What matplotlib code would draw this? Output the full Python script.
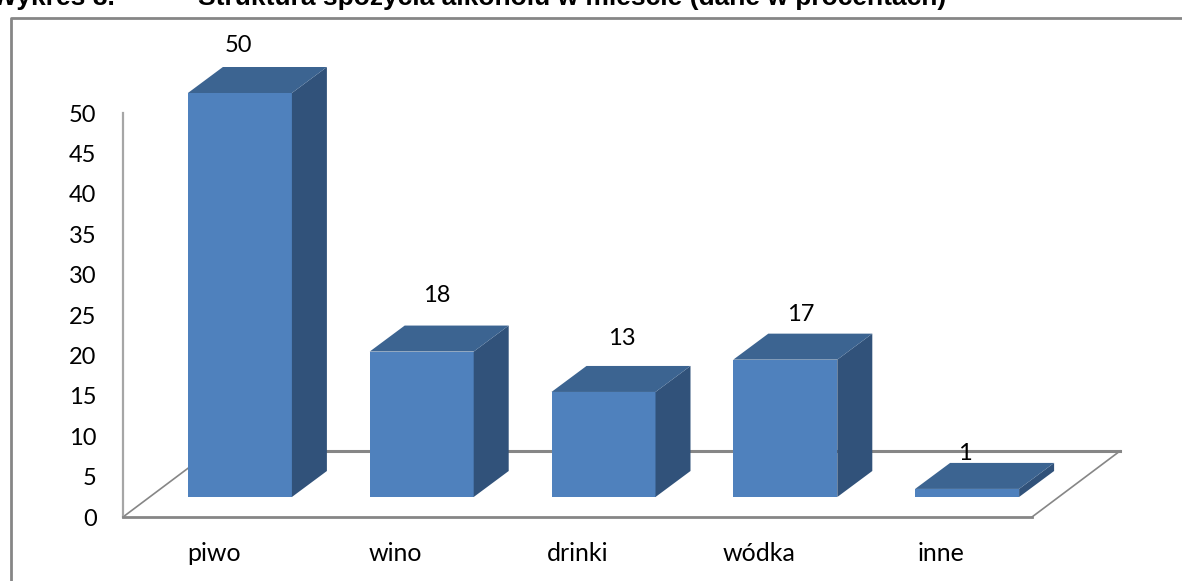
import matplotlib
matplotlib.use('Agg')
import matplotlib.pyplot as plt
from matplotlib.lines import Line2D

plt.rcParams['font.family'] = ['Lato', 'DejaVu Sans']

# Data
categories = ['piwo', 'wino', 'drinki', 'wódka', 'inne']
values = [50, 18, 13, 17, 1]
y_ticks = list(range(0, 55, 5))
title_left = 'Wykres 8.'
title_right = 'Struktura spożycia alkoholu w mieście (dane w procentach)'

W, H = 1182, 581
GREY = '#868686'
FRONT = '#4F81BD'
SIDE = '#31527A'
TOP = '#3C6491'

fig = plt.figure(figsize=(W / 100, H / 100), dpi=100)
ax = fig.add_axes([123 / W, (H - 517) / H, 909 / W, 404 / H])
ax.set_xlim(-0.5, 4.5)
ax.set_ylim(0, 50)

# one unit in pixels, used for the fake 3D offsets
px_x = 5 / 909
px_y = 50 / 404
shift_x = 26 * px_x
shift_y = 20 * px_y
bar_w = 104 * px_x
depth_x = 35 * px_x
depth_y = 26 * px_y
floor_x = 88 * px_x
floor_y = 66 * px_y

# Floor and back wall lines
ax.plot([-0.5, -0.5 + floor_x], [0, floor_y], color=GREY, lw=1.2, clip_on=False, zorder=1)
ax.plot([-0.5 + floor_x, 4.5 + floor_x], [floor_y, floor_y], color=GREY, lw=2.2, clip_on=False, zorder=1)
ax.plot([4.5, 4.5 + floor_x], [0, floor_y], color=GREY, lw=1.2, clip_on=False, zorder=1)

# Bars
label_dx = [-1, 15, 18, 15, -2]
label_dy = [48, 56, 53, 45, 35]
for i, v in enumerate(values):
    x0 = i + shift_x - bar_w / 2
    x1 = x0 + bar_w
    y0 = shift_y
    y1 = shift_y + v
    ax.bar(x0 + bar_w / 2, v, bar_w, bottom=y0, color=FRONT, zorder=3, clip_on=False)
    ax.fill([x1, x1 + depth_x, x1 + depth_x, x1],
            [y0, y0 + depth_y, y1 + depth_y, y1], color=SIDE, lw=0, zorder=3, clip_on=False)
    ax.fill([x0, x0 + depth_x, x1 + depth_x, x1],
            [y1, y1 + depth_y, y1 + depth_y, y1], color=TOP, lw=0, zorder=3, clip_on=False)
    ax.annotate(str(v), (i + shift_x, y1), xytext=(label_dx[i], label_dy[i]),
                textcoords='offset pixels', ha='center', va='center',
                fontsize=17, color='black', zorder=4, annotation_clip=False)

# Axes
for s in ['top', 'right']:
    ax.spines[s].set_visible(False)
ax.spines['left'].set_color('#A6A6A6')
ax.spines['left'].set_linewidth(1.6)
ax.spines['bottom'].set_color(GREY)
ax.spines['bottom'].set_linewidth(2)
ax.set_yticks(y_ticks)
ax.set_xticks(range(len(categories)))
ax.set_xticklabels(categories)
ax.tick_params(axis='y', length=0, pad=19, labelsize=17)
ax.tick_params(axis='x', length=0, pad=18, labelsize=18)

# Outer frame of the pasted picture
fig.add_artist(Line2D([11 / W, 11 / W, 1], [0, 1 - 18 / H, 1 - 18 / H], color=GREY, lw=2))

# Title, cut off by the top edge of the scan
fig.text(115 / W, 1 - 5 / H, title_left, family='Liberation Sans', fontweight='bold', fontsize=19,
         va='baseline', ha='right')
fig.text(198 / W, 1 - 5 / H, title_right, family='Liberation Sans', fontweight='bold', fontsize=19,
         va='baseline', ha='left')

fig.savefig('out.png', dpi=100)
